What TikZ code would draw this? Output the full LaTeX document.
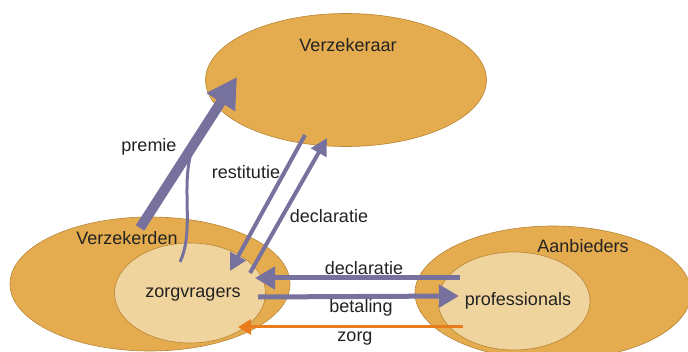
\documentclass[tikz,border=0pt]{standalone}
\usepackage{fontspec}
\setmainfont{Liberation Sans}
\usetikzlibrary{arrows.meta,shapes.geometric}
\definecolor{outerfill}{HTML}{E4AC4E}
\definecolor{innerfill}{HTML}{F0D49D}
\definecolor{rimline}{HTML}{B78535}
\definecolor{flowpurple}{HTML}{77719E}
\definecolor{floworange}{HTML}{E97C1E}
\definecolor{labelink}{HTML}{222222}
\tikzset{
  outerblob/.style={ellipse, draw=rimline, line width=0.6pt, fill=outerfill, inner sep=0pt},
  innerblob/.style={ellipse, draw=rimline, line width=0.6pt, fill=innerfill, inner sep=0pt},
  lbl/.style={font=\fontsize{18}{21}\selectfont, inner sep=0pt, text=labelink},
  bigflow/.style={draw=flowpurple, line width=10pt, -{Triangle[length=30pt,width=32pt]}},
  thinflow/.style={draw=flowpurple, line width=3pt},
  diagflow/.style={draw=flowpurple, line width=4pt, -{Triangle[length=17pt,width=17pt]}},
  horflow/.style={draw=flowpurple, line width=5pt, -{Triangle[length=20pt,width=22pt]}},
  careflow/.style={draw=floworange, line width=3pt, -{Triangle[length=13pt,width=15pt]}}
}
\begin{document}
\begin{tikzpicture}[x=1pt,y=-1pt]
\useasboundingbox (0,0) rectangle (688,352);
\clip (0,0) rectangle (688,352);
\fill[white] (0,0) rectangle (688,352);

% the three parties and the two inner groups
\node[outerblob, minimum width=281pt, minimum height=133pt] (verzekeraar) at (346,80) {};
\node[outerblob, minimum width=280pt, minimum height=134pt] (verzekerden) at (150,284) {};
\node[outerblob, minimum width=276pt, minimum height=134pt] (aanbieders) at (553,293) {};
\node[innerblob, minimum width=151pt, minimum height=100pt] (zorgvragers) at (190,293) {};
\node[innerblob, minimum width=152pt, minimum height=98pt] (professionals) at (514,301) {};

% labels
\node[lbl] (tverzekeraar) at (348,45) {Verzekeraar};
\node[lbl] (tverzekerden) at (127,238) {Verzekerden};
\node[lbl] (tzorgvragers) at (193,295) {zorgvragers};
\node[lbl] (taanbieders) at (583,246) {Aanbieders};
\node[lbl] (tprofessionals) at (518,301) {professionals};

% flow end points
\coordinate (premA) at (140,228);
\coordinate (premB) at (237,77);
\coordinate (zvA) at (180,262);
\coordinate (zvB) at (195,142);
\coordinate (restA) at (305,135);
\coordinate (restB) at (230,271);
\coordinate (decdA) at (250,273);
\coordinate (decdB) at (327,138);
\coordinate (dechA) at (460,278);
\coordinate (dechB) at (255,278);
\coordinate (betA) at (258,297);
\coordinate (betB) at (459,296);
\coordinate (zorgA) at (463,327);
\coordinate (zorgB) at (238,327);

% flows
\draw[thinflow] (zvA) .. controls (196,228) and (178,180) .. (zvB);
\draw[bigflow] (premA) -- (premB);
\draw[diagflow] (restA) -- (restB);
\draw[diagflow] (decdA) -- (decdB);
\draw[horflow] (dechA) -- (dechB);
\draw[horflow] (betA) -- (betB);
\draw[careflow] (zorgA) -- (zorgB);

% flow labels
\node[lbl] (tpremie) at (149,147) {premie};
\node[lbl] (trestitutie) at (246,172) {restitutie};
\node[lbl] (tdecd) at (329,216) {declaratie};
\node[lbl] (tdech) at (364,268) {declaratie};
\node[lbl] (tbet) at (361,308) {betaling};
\node[lbl] (tzorg) at (355,339) {zorg};
\end{tikzpicture}
\end{document}
